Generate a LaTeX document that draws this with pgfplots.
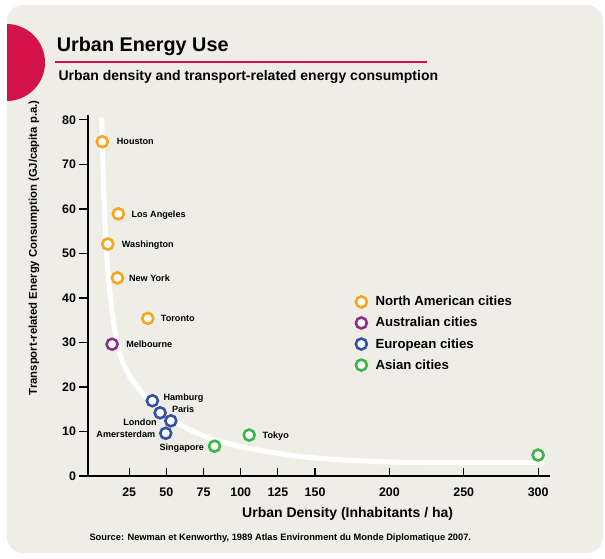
\documentclass[border=0pt]{standalone}
\usepackage{fontspec}
\setmainfont{Liberation Sans}
\usepackage{pgfplots}
\pgfplotsset{compat=1.18}
\definecolor{bg}{HTML}{EFEEE6}
\definecolor{crim}{HTML}{D4124A}
\definecolor{cna}{HTML}{F8A51B}
\definecolor{cau}{HTML}{8C2F8E}
\definecolor{ceu}{HTML}{3451A3}
\definecolor{cas}{HTML}{3DB54A}
\newcommand\lab{\fontsize{9.1}{9.1}\selectfont\bfseries}
\begin{document}
\begin{tikzpicture}[x=1pt,y=1pt]
\useasboundingbox (0,0) rectangle (605,558);
\path[fill=bg, rounded corners=16pt] (7,5) rectangle (603,553);
\begin{scope}
\clip[rounded corners=16pt] (7,5) rectangle (603,553);
\fill[crim] (6.5,495.5) circle[radius=38.5];
\end{scope}
\node[anchor=base west, inner sep=0pt, font=\fontsize{19.8}{20}\selectfont\bfseries] at (56.7,506.3) {Urban Energy Use};
\draw[crim, line width=1.5pt] (55,496) -- (427,496);
\node[anchor=base west, inner sep=0pt, font=\fontsize{14}{14}\selectfont\bfseries] at (58.3,477) {Urban density and transport-related energy consumption};
\node[anchor=base west, inner sep=0pt, font=\fontsize{9.3}{10}\selectfont\bfseries] at (89.3,18) {Source: Newman et Kenworthy, 1989 Atlas Environment du Monde Diplomatique 2007.};
\begin{axis}[
  at={(88pt,82pt)}, anchor=south west,
  width=462pt, height=361pt, scale only axis,
  xmin=-2.7, xmax=308, ymin=0, ymax=81.1,
  axis x line*=bottom, axis y line*=left,
  axis line style={line width=1.3pt, black},
  xtick={25,50,75,100,125,150,200,250,300},
  ytick={0,10,20,30,40,50,60,70,80},
  tick align=outside, major tick length=8.5pt,
  tick style={line width=1.2pt, black},
  every x tick/.append style={yshift=8.5pt},
  ticklabel style={font=\fontsize{12.4}{12.4}\selectfont\bfseries},
  /pgf/number format/assume math mode=true,
  xlabel={Urban Density (Inhabitants / ha)},
  ylabel={Transport-related Energy Consumption (GJ/capita p.a.)},
  xlabel style={font=\fontsize{14}{14}\selectfont\bfseries, at={(axis description cs:0.562,-0.1163)}, anchor=base},
  ylabel style={font=\fontsize{11.3}{11.3}\selectfont\bfseries, at={(axis description cs:-0.117,0.632)}, anchor=center},
  legend style={at={(axis cs:176.4,40.4)}, anchor=north west, draw=none, fill=none, inner sep=0pt,
    font=\fontsize{13.2}{13.2}\selectfont\bfseries, row sep=10pt, nodes={inner sep=0pt, anchor=west}},
  legend cell align=left,
  legend image code/.code={\draw[#1] plot coordinates {(6.85pt,0pt)}; \path[draw=none, fill=none] (0pt,0pt) (21pt,0pt);},
]
\addplot[white, line width=5pt, smooth, no marks, forget plot] coordinates {
(6.6,80.5) (7.2,72) (8.0,63) (9.2,54) (10.8,45.5) (13.0,38.5) (15.5,32.5) (18,28.3) (21,25.3)
(25.6,22.3) (34.3,18.5) (47.8,14.3) (61.3,11.2) (80,8.4) (106,6.2) (140,4.4) (174,3.5)
(207,3.1) (250,3.0) (304,3.0)};
\addplot[only marks, mark=*, mark size=5.5pt, mark options={draw=cna, fill=white, line width=2.6pt}] coordinates {
(6.9,75.1) (17.7,58.9) (10.6,52.1) (17.1,44.5) (37.5,35.4)};
\addlegendentry{North American cities}
\addplot[only marks, mark=*, mark size=5.5pt, mark options={draw=cau, fill=white, line width=2.6pt}] coordinates {
(13.5,29.6)};
\addlegendentry{Australian cities}
\addplot[only marks, mark=*, mark size=5.5pt, mark options={draw=ceu, fill=white, line width=2.6pt}] coordinates {
(40.6,16.9) (45.8,14.2) (53,12.4) (49.6,9.6)};
\addlegendentry{European cities}
\addplot[only marks, mark=*, mark size=5.5pt, mark options={draw=cas, fill=white, line width=2.6pt}] coordinates {
(82.4,6.7) (105.7,9.2) (300,4.7)};
\addlegendentry{Asian cities}
\node[anchor=base west, inner sep=0pt, font=\lab, xshift=14.4pt, yshift=-3.25pt] at (axis cs:6.9,75.1) {Houston};
\node[anchor=base west, inner sep=0pt, font=\lab, xshift=13pt, yshift=-3.25pt] at (axis cs:17.7,58.9) {Los Angeles};
\node[anchor=base west, inner sep=0pt, font=\lab, xshift=14pt, yshift=-3.25pt] at (axis cs:10.6,52.1) {Washington};
\node[anchor=base west, inner sep=0pt, font=\lab, xshift=11.4pt, yshift=-3.25pt] at (axis cs:17.1,44.5) {New York};
\node[anchor=base west, inner sep=0pt, font=\lab, xshift=13pt, yshift=-3.25pt] at (axis cs:37.5,35.4) {Toronto};
\node[anchor=base west, inner sep=0pt, font=\lab, xshift=14pt, yshift=-3.25pt] at (axis cs:13.5,29.6) {Melbourne};
\node[anchor=base west, inner sep=0pt, font=\lab, xshift=11pt, yshift=0.75pt] at (axis cs:40.6,16.9) {Hamburg};
\node[anchor=base west, inner sep=0pt, font=\lab, xshift=11.7pt, yshift=0.45pt] at (axis cs:45.8,14.2) {Paris};
\node[anchor=base east, inner sep=0pt, font=\lab, xshift=-14pt, yshift=-4.95pt] at (axis cs:53,12.4) {London};
\node[anchor=base east, inner sep=0pt, font=\lab, xshift=-10.4pt, yshift=-4.25pt] at (axis cs:49.6,9.6) {Amersterdam};
\node[anchor=base east, inner sep=0pt, font=\lab, xshift=-10.3pt, yshift=-3.9pt] at (axis cs:82.4,6.7) {Singapore};
\node[anchor=base west, inner sep=0pt, font=\lab, xshift=13.3pt, yshift=-3.25pt] at (axis cs:105.7,9.2) {Tokyo};
\node[anchor=base west, inner sep=0pt, font=\lab, xshift=13.5pt, yshift=-3.25pt] at (axis cs:300,4.7) {Hong Kong};
\end{axis}
\end{tikzpicture}
\end{document}
